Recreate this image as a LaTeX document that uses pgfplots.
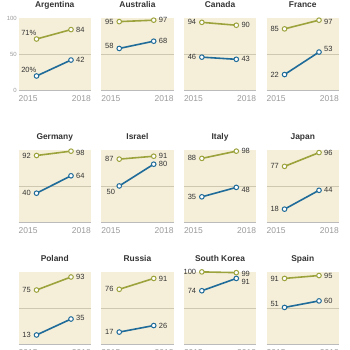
\documentclass[border=0pt]{standalone}
\usepackage{pgfplots}
\pgfplotsset{compat=1.18}
\usepackage{fontspec}
\setmainfont{Liberation Sans}
\definecolor{bg}{HTML}{F5EFD9}
\definecolor{grn}{HTML}{9CA33D}
\definecolor{blu}{HTML}{1F6B99}
\definecolor{mid}{HTML}{CFC8B0}
\definecolor{axl}{HTML}{BBBBBB}
\definecolor{txt}{HTML}{333333}
\definecolor{tk}{HTML}{9A9A9A}
\pgfplotsset{
  panel/.style n args={3}{
    at={(#1pt,#2pt)}, anchor=south west, scale only axis, width=72.5pt, height=72.5pt,
    xmin=2013.43, xmax=2019.74, ymin=0, ymax=100, clip=false,
    axis x line*=bottom, axis y line=none,
    x axis line style={axl, line width=0.8pt, -},
    xtick=\empty, ytick=\empty,
    axis background/.style={fill=bg},
    execute at begin axis={\draw[mid, line width=0.6pt] (rel axis cs:0,0.5) -- (rel axis cs:1,0.5);
      \node[font=\fontsize{8.4}{9}\bfseries\selectfont, text=txt, anchor=base, inner sep=0pt, yshift=10.5pt] at (rel axis cs:0.5,1) {#3};},
  },
  gline/.style={grn, line width=1.6pt, mark=*, mark size=2.3pt, mark options={fill=white, draw=grn, line width=1pt}},
  bline/.style={blu, line width=1.6pt, mark=*, mark size=2.3pt, mark options={fill=white, draw=blu, line width=1pt}},
}
\tikzset{
  lab/.style={font=\fontsize{7.5}{8}\selectfont, text=txt, inner sep=0pt},
  L/.style={lab, anchor=east, xshift=-5.5pt},
  R/.style={lab, anchor=west, xshift=5pt},
  yr/.style={font=\fontsize{8.5}{9}\selectfont, text=tk, inner sep=0pt, anchor=base, yshift=-11.5pt},
}
\newcommand{\years}{%
  \node[yr, anchor=base west] at (rel axis cs:0,0) {2015};
  \node[yr, anchor=base east] at (rel axis cs:1,0) {2018};}
\begin{document}
\begin{tikzpicture}
\useasboundingbox (0pt,0pt) rectangle (350pt,350pt);
% Row 1
\begin{axis}[panel={18.5}{259.5}{Argentina}]
\addplot[gline] coordinates {(2015,71) (2018,84)};
\addplot[bline] coordinates {(2015,20) (2018,42)};
\node[lab, anchor=south east, yshift=3.5pt] at (axis cs:2015,71) {71\%};
\node[lab, anchor=south east, yshift=3.5pt] at (axis cs:2015,20) {20\%};
\node[R] at (axis cs:2018,84) {84};
\node[R] at (axis cs:2018,42) {42};
\node[lab, font=\fontsize{6}{7}\selectfont, text=tk, anchor=east, xshift=-1.5pt] at (rel axis cs:0,1) {100};
\node[lab, font=\fontsize{6}{7}\selectfont, text=tk, anchor=east, xshift=-1.5pt] at (rel axis cs:0,0.5) {50};
\node[lab, font=\fontsize{6}{7}\selectfont, text=tk, anchor=east, xshift=-1.5pt] at (rel axis cs:0,0) {0};
\years
\end{axis}
\begin{axis}[panel={101.2}{259.5}{Australia}]
\addplot[gline] coordinates {(2015,95) (2018,97)};
\addplot[bline] coordinates {(2015,58) (2018,68)};
\node[L] at (axis cs:2015,95) {95};
\node[L, yshift=3pt] at (axis cs:2015,58) {58};
\node[R] at (axis cs:2018,97) {97};
\node[R] at (axis cs:2018,68) {68};
\years
\end{axis}
\begin{axis}[panel={183.8}{259.5}{Canada}]
\addplot[gline] coordinates {(2015,94) (2018,90)};
\addplot[bline] coordinates {(2015,46) (2018,43)};
\node[L] at (axis cs:2015,94) {94};
\node[L] at (axis cs:2015,46) {46};
\node[R] at (axis cs:2018,90) {90};
\node[R] at (axis cs:2018,43) {43};
\years
\end{axis}
\begin{axis}[panel={266.5}{259.5}{France}]
\addplot[gline] coordinates {(2015,85) (2018,97)};
\addplot[bline] coordinates {(2015,22) (2018,53)};
\node[L] at (axis cs:2015,85) {85};
\node[L] at (axis cs:2015,22) {22};
\node[R, yshift=-2pt] at (axis cs:2018,97) {97};
\node[R, yshift=3pt] at (axis cs:2018,53) {53};
\years
\end{axis}
% Row 2
\begin{axis}[panel={18.5}{127.8}{Germany}]
\addplot[gline] coordinates {(2015,92) (2018,98)};
\addplot[bline] coordinates {(2015,40) (2018,64)};
\node[L] at (axis cs:2015,92) {92};
\node[L] at (axis cs:2015,40) {40};
\node[R, yshift=-1.5pt] at (axis cs:2018,98) {98};
\node[R] at (axis cs:2018,64) {64};
\years
\end{axis}
\begin{axis}[panel={101.2}{127.8}{Israel}]
\addplot[gline] coordinates {(2015,87) (2018,91)};
\addplot[bline] coordinates {(2015,50) (2018,80)};
\node[L] at (axis cs:2015,87) {87};
\node[lab, anchor=north east, xshift=-4pt, yshift=-3pt] at (axis cs:2015,50) {50};
\node[R] at (axis cs:2018,91) {91};
\node[R] at (axis cs:2018,80) {80};
\years
\end{axis}
\begin{axis}[panel={183.8}{127.8}{Italy}]
\addplot[gline] coordinates {(2015,88) (2018,98)};
\addplot[bline] coordinates {(2015,35) (2018,48)};
\node[L] at (axis cs:2015,88) {88};
\node[L] at (axis cs:2015,35) {35};
\node[R] at (axis cs:2018,98) {98};
\node[R, yshift=-3pt] at (axis cs:2018,48) {48};
\years
\end{axis}
\begin{axis}[panel={266.5}{127.8}{Japan}]
\addplot[gline] coordinates {(2015,77) (2018,96)};
\addplot[bline] coordinates {(2015,18) (2018,44)};
\node[L] at (axis cs:2015,77) {77};
\node[L] at (axis cs:2015,18) {18};
\node[R] at (axis cs:2018,96) {96};
\node[R] at (axis cs:2018,44) {44};
\years
\end{axis}
% Row 3
\begin{axis}[panel={18.5}{5.6}{Poland}]
\addplot[gline] coordinates {(2015,75) (2018,93)};
\addplot[bline] coordinates {(2015,13) (2018,35)};
\node[L] at (axis cs:2015,75) {75};
\node[L] at (axis cs:2015,13) {13};
\node[R] at (axis cs:2018,93) {93};
\node[R, yshift=1pt] at (axis cs:2018,35) {35};
\years
\end{axis}
\begin{axis}[panel={101.2}{5.6}{Russia}]
\addplot[gline] coordinates {(2015,76) (2018,91)};
\addplot[bline] coordinates {(2015,17) (2018,26)};
\node[L] at (axis cs:2015,76) {76};
\node[L] at (axis cs:2015,17) {17};
\node[R] at (axis cs:2018,91) {91};
\node[R] at (axis cs:2018,26) {26};
\years
\end{axis}
\begin{axis}[panel={183.8}{5.6}{South Korea}]
\addplot[gline] coordinates {(2015,100) (2018,99)};
\addplot[bline] coordinates {(2015,74) (2018,91)};
\node[L] at (axis cs:2015,100) {100};
\node[L] at (axis cs:2015,74) {74};
\node[R, yshift=-1pt] at (axis cs:2018,99) {99};
\node[R, yshift=-3pt] at (axis cs:2018,91) {91};
\years
\end{axis}
\begin{axis}[panel={266.5}{5.6}{Spain}]
\addplot[gline] coordinates {(2015,91) (2018,95)};
\addplot[bline] coordinates {(2015,51) (2018,60)};
\node[L] at (axis cs:2015,91) {91};
\node[L, yshift=3pt] at (axis cs:2015,51) {51};
\node[R] at (axis cs:2018,95) {95};
\node[R] at (axis cs:2018,60) {60};
\years
\end{axis}
\end{tikzpicture}
\end{document}
